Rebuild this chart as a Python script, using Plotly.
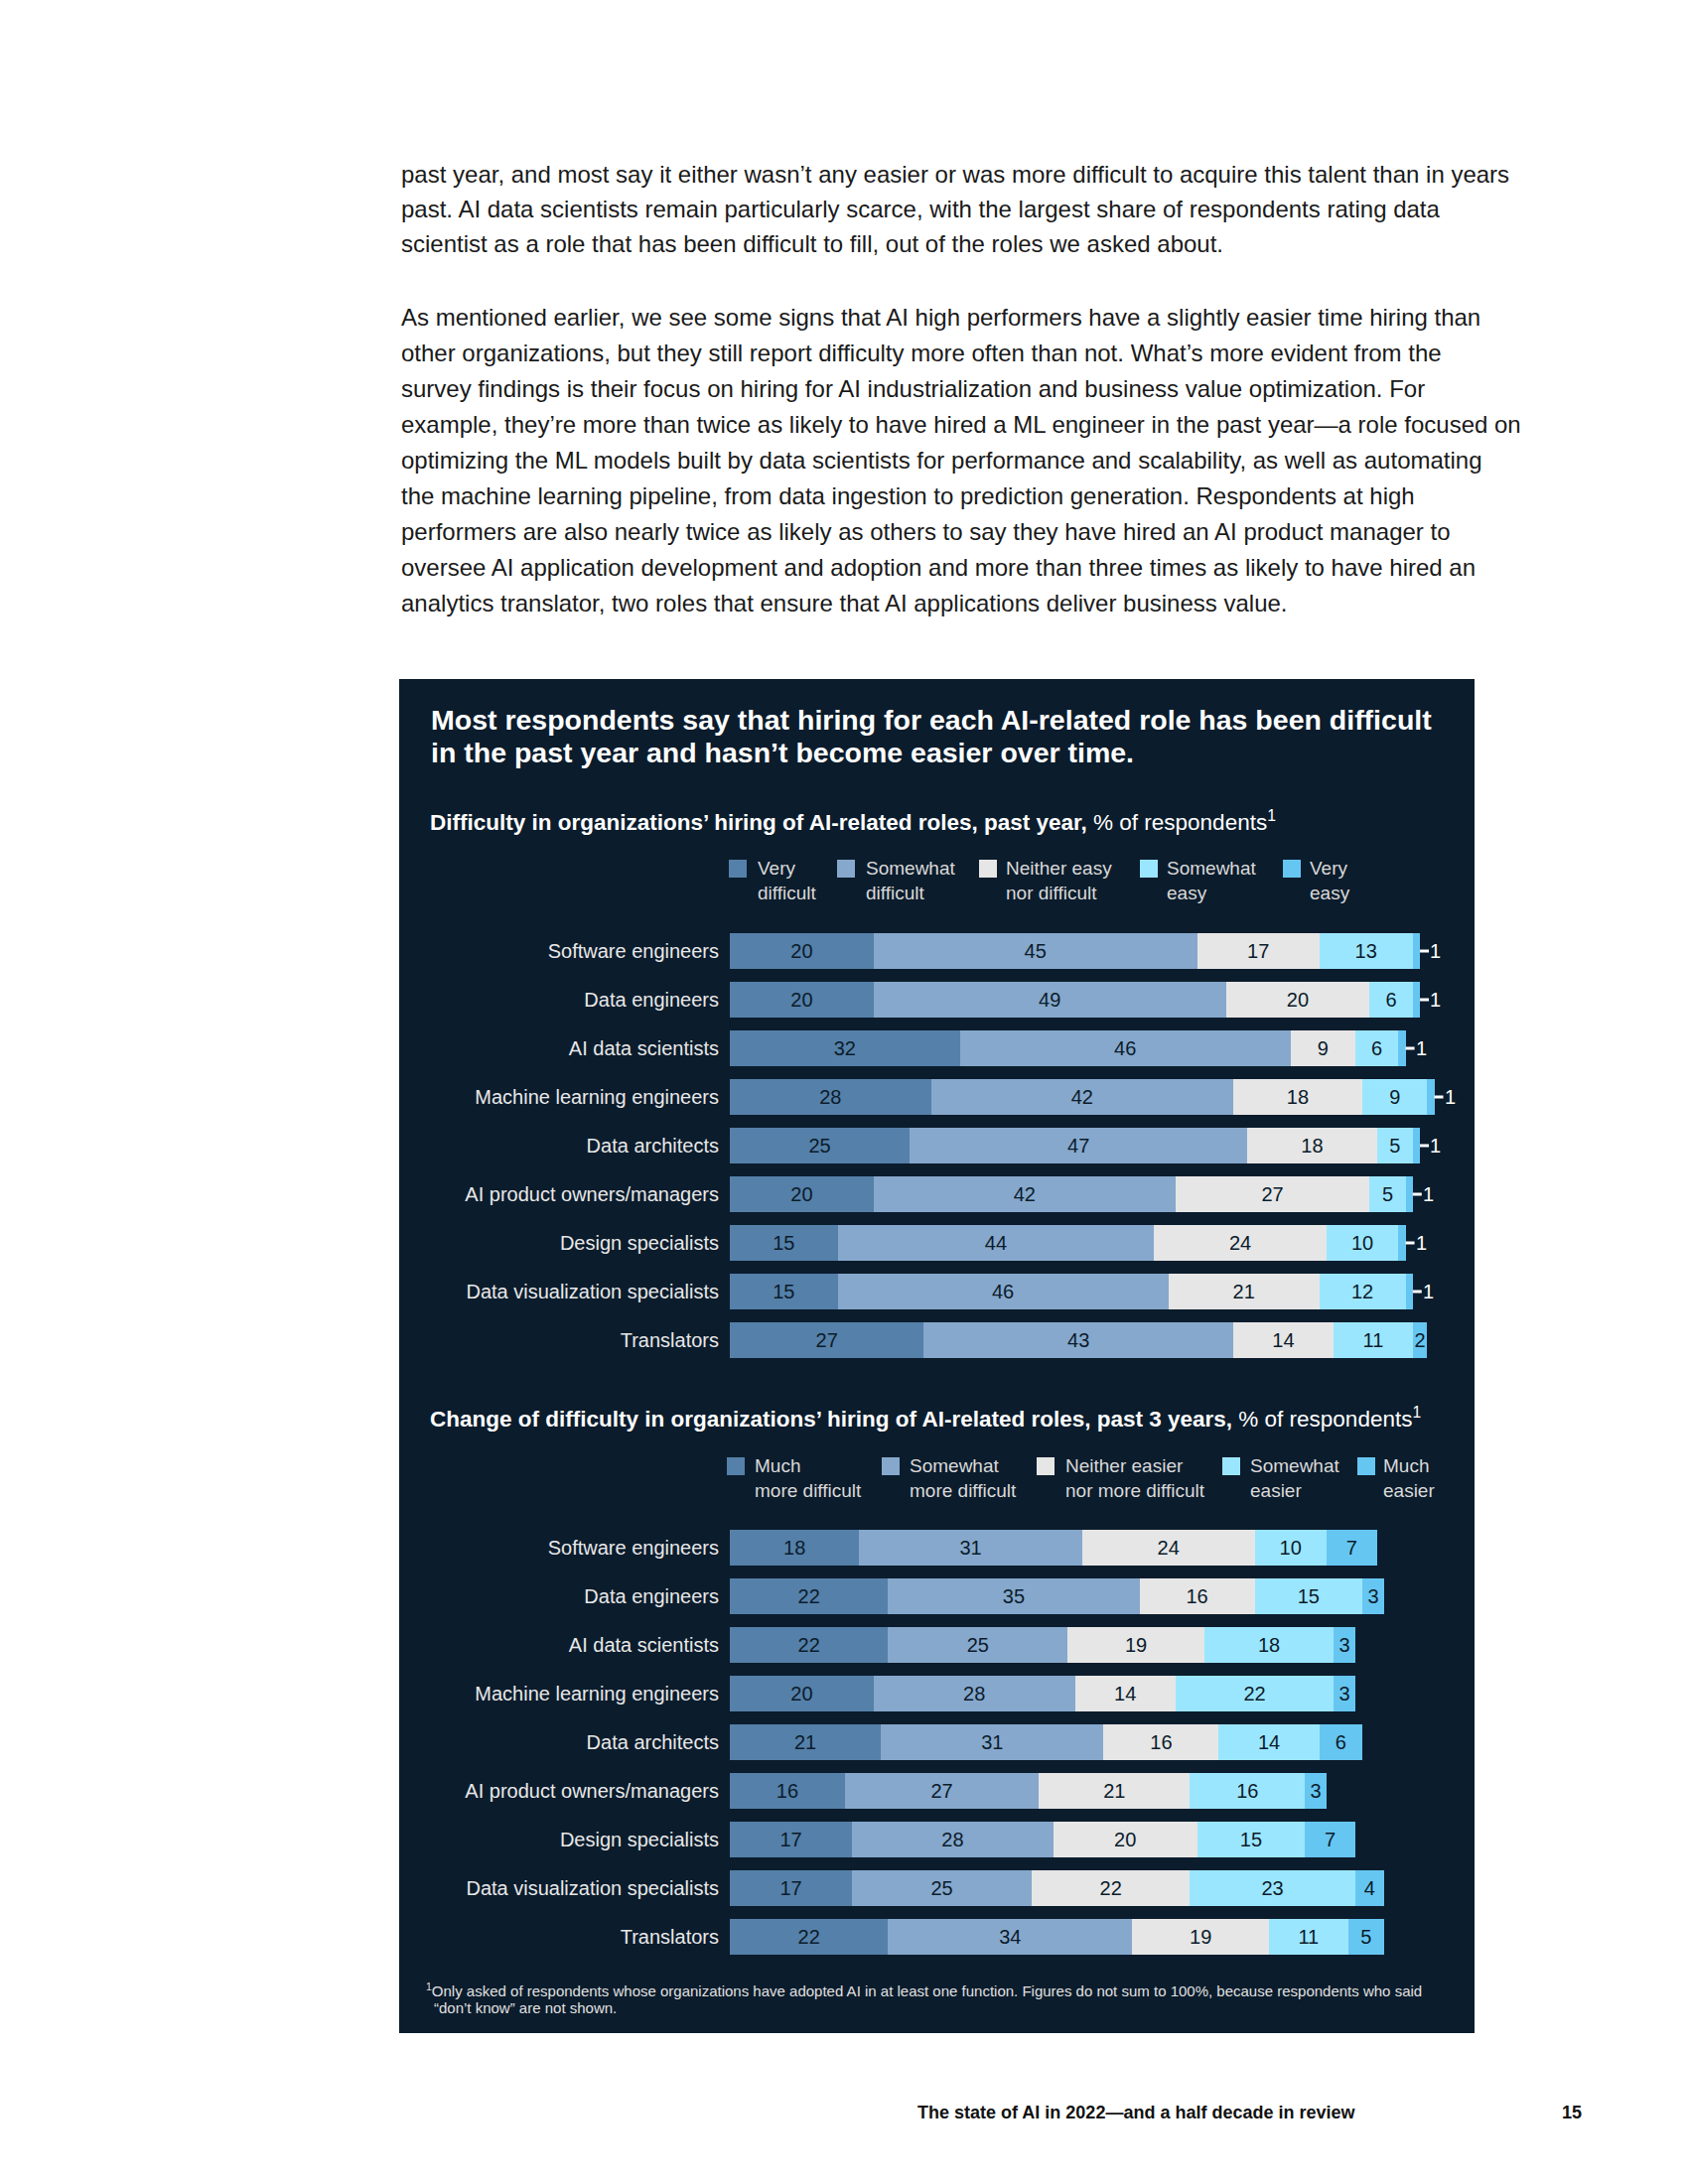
import plotly.graph_objects as go

W, H = 1700, 2200

roles = ["Software engineers", "Data engineers", "AI data scientists",
         "Machine learning engineers", "Data architects", "AI product owners/managers",
         "Design specialists", "Data visualization specialists", "Translators"]

# Chart 1: difficulty in hiring, past year (% of respondents)
p1_names = ["Very difficult", "Somewhat difficult", "Neither easy nor difficult",
            "Somewhat easy", "Very easy"]
p1_legend = ["Very<br>difficult", "Somewhat<br>difficult", "Neither easy<br>nor difficult",
             "Somewhat<br>easy", "Very<br>easy"]
p1_very_difficult = [20, 20, 32, 28, 25, 20, 15, 15, 27]
p1_somewhat_difficult = [45, 49, 46, 42, 47, 42, 44, 46, 43]
p1_neither = [17, 20, 9, 18, 18, 27, 24, 21, 14]
p1_somewhat_easy = [13, 6, 6, 9, 5, 5, 10, 12, 11]
p1_very_easy = [1, 1, 1, 1, 1, 1, 1, 1, 2]

# Chart 2: change of difficulty, past 3 years (% of respondents)
p3_names = ["Much more difficult", "Somewhat more difficult",
            "Neither easier nor more difficult", "Somewhat easier", "Much easier"]
p3_legend = ["Much<br>more difficult", "Somewhat<br>more difficult",
             "Neither easier<br>nor more difficult", "Somewhat<br>easier", "Much<br>easier"]
p3_much_more = [18, 22, 22, 20, 21, 16, 17, 17, 22]
p3_somewhat_more = [31, 35, 25, 28, 31, 27, 28, 25, 34]
p3_neither = [24, 16, 19, 14, 16, 21, 20, 22, 19]
p3_somewhat_easier = [10, 15, 18, 22, 14, 16, 15, 23, 11]
p3_much_easier = [7, 3, 3, 3, 6, 3, 7, 4, 5]

colors = ["#5580a9", "#86a8cc", "#e6e6e6", "#9be6ff", "#66c6f2"]
NAVY = "#0b1c2c"
FONT = "Liberation Sans"

body_lines_1 = [
    "past year, and most say it either wasn’t any easier or was more difficult to acquire this talent than in years",
    "past. AI data scientists remain particularly scarce, with the largest share of respondents rating data",
    "scientist as a role that has been difficult to fill, out of the roles we asked about.",
]
body_lines_2 = [
    "As mentioned earlier, we see some signs that AI high performers have a slightly easier time hiring than",
    "other organizations, but they still report difficulty more often than not. What’s more evident from the",
    "survey findings is their focus on hiring for AI industrialization and business value optimization. For",
    "example, they’re more than twice as likely to have hired a ML engineer in the past year—a role focused on",
    "optimizing the ML models built by data scientists for performance and scalability, as well as automating",
    "the machine learning pipeline, from data ingestion to prediction generation. Respondents at high",
    "performers are also nearly twice as likely as others to say they have hired an AI product manager to",
    "oversee AI application development and adoption and more than three times as likely to have hired an",
    "analytics translator, two roles that ensure that AI applications deliver business value.",
]
title_lines = ["Most respondents say that hiring for each AI-related role has been difficult",
               "in the past year and hasn’t become easier over time."]
sub1_bold = "Difficulty in organizations’ hiring of AI-related roles, past year,"
sub2_bold = "Change of difficulty in organizations’ hiring of AI-related roles, past 3 years,"
sub_rest = " % of respondents<sup>1</sup>"
footnote_1 = "<sup>1</sup>Only asked of respondents whose organizations have adopted AI in at least one function. Figures do not sum to 100%, because respondents who said"
footnote_2 = "“don’t know” are not shown."
footer_text = "The state of AI in 2022—and a half decade in review"
page_no = "15"

DX, DY = -7, -7


def px(x):
    return (x + DX) / W


def py(y):
    return 1 - (y + DY) / H


fig = go.Figure()

series1 = [p1_very_difficult, p1_somewhat_difficult, p1_neither, p1_somewhat_easy, p1_very_easy]
series3 = [p3_much_more, p3_somewhat_more, p3_neither, p3_somewhat_easier, p3_much_easier]

for k, (name, vals) in enumerate(zip(p1_names, series1)):
    txt = [(None if (k == 4 and v == 1) else str(v)) for v in vals]
    fig.add_trace(go.Bar(
        x=vals, y=roles, orientation="h", name=name, marker=dict(color=colors[k], line=dict(width=0)),
        text=txt, textposition="inside", insidetextanchor="middle", textangle=0,
        textfont=dict(family=FONT, size=20, color=NAVY), xaxis="x", yaxis="y",
        hoverinfo="skip", showlegend=False, cliponaxis=False))

for k, (name, vals) in enumerate(zip(p3_names, series3)):
    fig.add_trace(go.Bar(
        x=vals, y=roles, orientation="h", name=name, marker=dict(color=colors[k], line=dict(width=0)),
        text=[str(v) for v in vals], textposition="inside", insidetextanchor="middle", textangle=0,
        textfont=dict(family=FONT, size=20, color=NAVY), xaxis="x2", yaxis="y2",
        hoverinfo="skip", showlegend=False, cliponaxis=False))

x0, x100 = 734, 1458
ann = []
shapes = []

# background panel
shapes.append(dict(type="rect", xref="paper", yref="paper", x0=px(401), x1=px(1484),
                   y0=py(2047), y1=py(683), fillcolor=NAVY, line=dict(width=0), layer="below"))

# outside labels for 1% "very easy" segments
for i, v in enumerate(p1_very_easy):
    if v == 1:
        total = sum(s[i] for s in series1)
        ann.append(dict(x=total, y=roles[i], xref="x", yref="y", text=str(v), showarrow=True,
                        arrowhead=0, arrowwidth=3, arrowcolor="#ffffff", ax=9, ay=0,
                        xanchor="left", borderpad=0, standoff=0,
                        font=dict(family=FONT, size=20, color="#ffffff")))

# body text
for i, line in enumerate(body_lines_1):
    ann.append(dict(x=px(401), y=py(174 + 35.5 * i), xref="paper", yref="paper", text=line,
                    showarrow=False, xanchor="left", yanchor="middle",
                    font=dict(family=FONT, size=24, color="#1a1a1a")))
for i, line in enumerate(body_lines_2):
    ann.append(dict(x=px(401), y=py(318 + 36.1 * i), xref="paper", yref="paper", text=line,
                    showarrow=False, xanchor="left", yanchor="middle",
                    font=dict(family=FONT, size=24, color="#1a1a1a")))

# title
for i, line in enumerate(title_lines):
    ann.append(dict(x=px(431), y=py(724 + 33 * i), xref="paper", yref="paper", text="<b>" + line + "</b>",
                    showarrow=False, xanchor="left", yanchor="middle",
                    font=dict(family=FONT, size=28.5, color="#ffffff")))

# subtitles
ann.append(dict(x=px(430), y=py(826), xref="paper", yref="paper",
                text="<b>" + sub1_bold + "</b>" + sub_rest, showarrow=False, xanchor="left",
                yanchor="middle", font=dict(family=FONT, size=22.5, color="#ffffff")))
ann.append(dict(x=px(430), y=py(1427), xref="paper", yref="paper",
                text="<b>" + sub2_bold + "</b>" + sub_rest, showarrow=False, xanchor="left",
                yanchor="middle", font=dict(family=FONT, size=22.5, color="#ffffff")))

# legends
leg1_sq = [733, 842, 985, 1147, 1291]
leg1_tx = [760, 869, 1010, 1172, 1316]
leg3_sq = [731, 887, 1043, 1230, 1366]
leg3_tx = [757, 913, 1070, 1256, 1390]
for sq, tx, lab, c in zip(leg1_sq, leg1_tx, p1_legend, colors):
    shapes.append(dict(type="rect", xref="paper", yref="paper", x0=px(sq), x1=px(sq + 18),
                       y0=py(883), y1=py(865), fillcolor=c, line=dict(width=0)))
    ann.append(dict(x=px(tx), y=py(861), xref="paper", yref="paper", text=lab, showarrow=False,
                    xanchor="left", yanchor="top", align="left",
                    font=dict(family=FONT, size=19, color="#d9d9d9")))
for sq, tx, lab, c in zip(leg3_sq, leg3_tx, p3_legend, colors):
    shapes.append(dict(type="rect", xref="paper", yref="paper", x0=px(sq), x1=px(sq + 18),
                       y0=py(1485), y1=py(1467), fillcolor=c, line=dict(width=0)))
    ann.append(dict(x=px(tx), y=py(1463), xref="paper", yref="paper", text=lab, showarrow=False,
                    xanchor="left", yanchor="top", align="left",
                    font=dict(family=FONT, size=19, color="#d9d9d9")))

# footnote
ann.append(dict(x=px(426), y=py(2003), xref="paper", yref="paper", text=footnote_1, showarrow=False,
                xanchor="left", yanchor="middle", font=dict(family=FONT, size=15, color="#e0e0e0")))
ann.append(dict(x=px(434), y=py(2021), xref="paper", yref="paper", text=footnote_2, showarrow=False,
                xanchor="left", yanchor="middle", font=dict(family=FONT, size=15, color="#e0e0e0")))

# page footer
ann.append(dict(x=px(921), y=py(2127), xref="paper", yref="paper", text="<b>" + footer_text + "</b>",
                showarrow=False, xanchor="left", yanchor="middle",
                font=dict(family=FONT, size=18, color="#111111")))
ann.append(dict(x=px(1570), y=py(2127), xref="paper", yref="paper", text="<b>" + page_no + "</b>",
                showarrow=False, xanchor="left", yanchor="middle",
                font=dict(family=FONT, size=18, color="#111111")))

xaxis_common = dict(range=[0, 100], showgrid=False, zeroline=False, showline=False,
                    showticklabels=False, fixedrange=True)
yaxis_common = dict(showgrid=False, zeroline=False, showline=False, ticks="",
                    autorange="reversed", ticklabelstandoff=10,
                    tickfont=dict(family=FONT, size=20, color="#e8e8e8"))

fig.update_layout(
    width=W, height=H, margin=dict(l=0, r=0, t=0, b=0),
    paper_bgcolor="#ffffff", plot_bgcolor="rgba(0,0,0,0)",
    barmode="stack", bargap=0.265, showlegend=False,
    uniformtext=dict(minsize=18, mode="show"),
    xaxis=dict(domain=[px(x0), px(x100)], anchor="y", **xaxis_common),
    yaxis=dict(domain=[py(1373.5), py(932.5)], anchor="x", **yaxis_common),
    xaxis2=dict(domain=[px(x0), px(x100)], anchor="y2", **xaxis_common),
    yaxis2=dict(domain=[py(1974.5), py(1533.5)], anchor="x2", **yaxis_common),
    annotations=ann, shapes=shapes,
)

fig.write_html("out.html")
